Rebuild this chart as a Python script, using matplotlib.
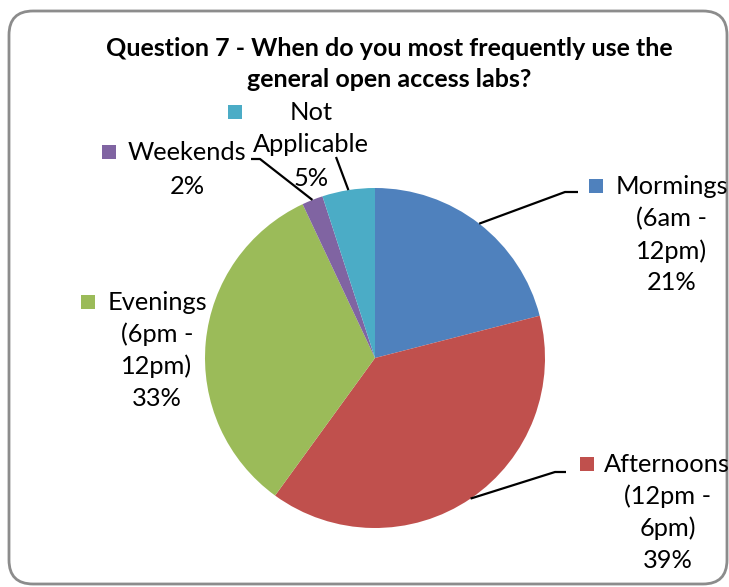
import numpy as np
import matplotlib.pyplot as plt
from matplotlib.patches import FancyBboxPatch, Rectangle

W, H = 729, 587

title = 'Question 7 - When do you most frequently use the\ngeneral open access labs?'
categories = ['Mormings\n(6am -\n12pm)', 'Afternoons\n(12pm -\n6pm)',
              'Evenings\n(6pm -\n12pm)', 'Weekends', 'Not\nApplicable']
values = [21, 39, 33, 2, 5]
colors = ['#4F81BD', '#C0504D', '#9BBB59', '#8064A2', '#4BACC6']

# label layout in pixels (top-left origin): square, first line, other lines, pitch
label_pos = [
    dict(sq=(596, 186), first=(672, 187), rest=672, pitch=32, elbow=[(565, 192), (578, 192)]),
    dict(sq=(587, 464), first=(667, 464), rest=668, pitch=32, elbow=[(555, 472), (566, 472)]),
    dict(sq=(88, 302), first=(157, 302), rest=157, pitch=32, elbow=None),
    dict(sq=(109, 152), first=(187, 152), rest=187, pitch=34, elbow=[(260, 159), (251, 159)]),
    dict(sq=(235, 112), first=(311, 112), rest=311, pitch=33, elbow=[(336, 157)]),
]

FONT = 'Lato'
FS = 18.3

def py(y):
    return H - y

fig = plt.figure(figsize=(W / 100, H / 100), dpi=100)
ax = fig.add_axes([0, 0, 1, 1])
ax.set_xlim(0, W)
ax.set_ylim(0, H)
ax.set_aspect('equal')
ax.axis('off')

frame = FancyBboxPatch((9, py(584)), 718, 573, boxstyle='round,pad=0,rounding_size=24',
                       facecolor='white', edgecolor='#8c8c8c', linewidth=2, zorder=0)
ax.add_patch(frame)

cx, cy, r = 375, py(358), 170
wedges, _ = ax.pie(values, colors=colors, startangle=90, counterclock=False,
                   center=(cx, cy), radius=r, frame=True,
                   wedgeprops=dict(linewidth=0))
ax.set_xlim(0, W)
ax.set_ylim(0, H)
ax.axis('off')

ax.text(389, py(64), title, ha='center', va='center', fontsize=18,
        fontweight='bold', family=FONT, linespacing=1.4)

for w, cat, v, col, lp in zip(wedges, categories, values, colors, label_pos):
    lines = cat.split('\n') + ['%d%%' % v]
    sx, sy = lp['sq']
    ax.add_patch(Rectangle((sx - 7, py(sy) - 7), 14, 14, facecolor=col, edgecolor='none'))
    fx, fy = lp['first']
    ax.text(fx, py(fy), lines[0], ha='center', va='center', fontsize=FS, family=FONT)
    for i, t in enumerate(lines[1:], start=1):
        ax.text(lp['rest'], py(fy + i * lp['pitch']), t, ha='center', va='center',
                fontsize=FS, family=FONT)
    if lp['elbow']:
        mid = np.deg2rad((w.theta1 + w.theta2) / 2)
        xs = [cx + r * np.cos(mid)] + [p[0] for p in lp['elbow']]
        ys = [cy + r * np.sin(mid)] + [py(p[1]) for p in lp['elbow']]
        ax.plot(xs, ys, color='black', linewidth=1.6, solid_capstyle='butt')

fig.savefig('out.png', dpi=100)
